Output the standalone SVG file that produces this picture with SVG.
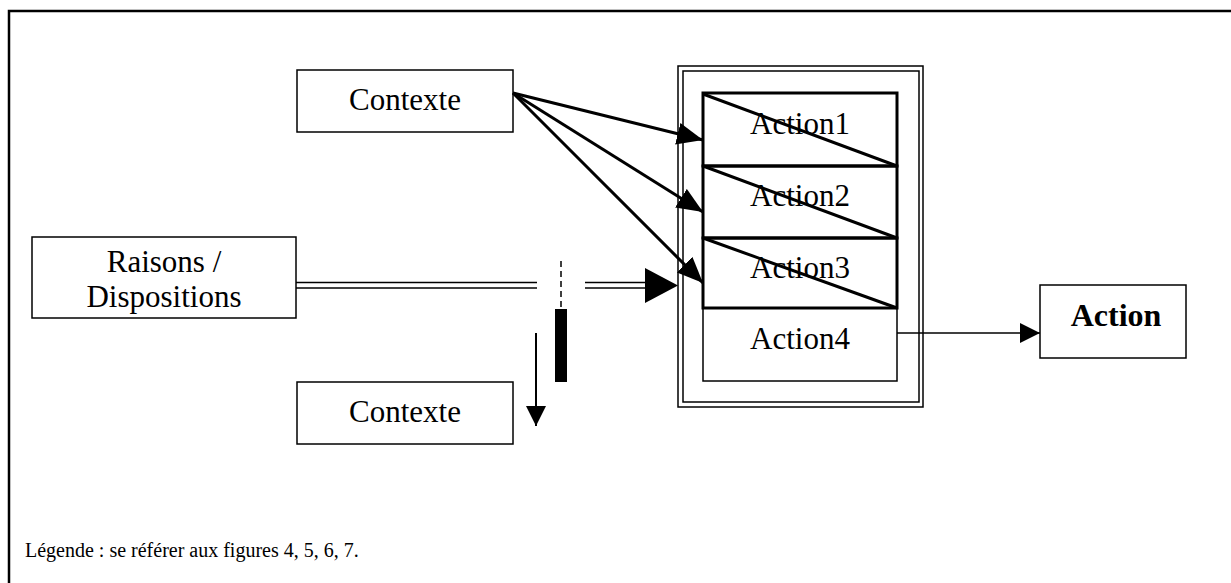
<svg xmlns="http://www.w3.org/2000/svg" width="1231" height="583" viewBox="0 0 1231 583">
<style>
text{font-family:"Liberation Serif","Times New Roman",serif;fill:#000}
.lbl{font-size:31px;text-anchor:middle}
.box{fill:#fff;stroke:#000;stroke-width:1.5}
.thick{fill:none;stroke:#000;stroke-width:3}
.ln{stroke:#000;fill:none}
</style>
<defs>
<marker id="big" markerUnits="userSpaceOnUse" markerWidth="26" markerHeight="22" refX="26" refY="11" orient="auto">
<path d="M0,0 L26,11 L0,22 Z" fill="#000"/>
</marker>
<marker id="small" markerUnits="userSpaceOnUse" markerWidth="20" markerHeight="20" refX="20" refY="10" orient="auto">
<path d="M0,0 L20,10 L0,20 Z" fill="#000"/>
</marker>
</defs>
<rect width="1231" height="583" fill="#fff"/>
<path d="M9,584 V11 H1232" class="ln" stroke-width="2.5"/>

<g id="container">
<rect x="678" y="66" width="245" height="341" fill="#fff" stroke="#000" stroke-width="1.5"/>
<rect x="683" y="71" width="236" height="331" fill="none" stroke="#000" stroke-width="1.5"/>
</g>

<g id="contexte-top">
<rect class="box" x="297" y="70" width="216" height="62"/>
<text class="lbl" x="405" y="110">Contexte</text>
</g>
<g id="raisons">
<rect class="box" x="32" y="237" width="264" height="81"/>
<text class="lbl" x="164" y="272">Raisons /</text>
<text class="lbl" x="164" y="307">Dispositions</text>
</g>
<g id="contexte-bottom">
<rect class="box" x="297" y="382" width="216" height="62"/>
<text class="lbl" x="405" y="422">Contexte</text>
</g>

<g id="action4">
<rect class="box" x="703" y="308" width="194" height="73"/>
<text class="lbl" x="800" y="349">Action4</text>
</g>
<g id="action1">
<text class="lbl" x="800" y="134">Action1</text>
<rect class="thick" x="703" y="93" width="194" height="73"/>
<line class="ln" stroke-width="3" x1="703" y1="94" x2="897" y2="166"/>
</g>
<g id="action2">
<text class="lbl" x="800" y="206">Action2</text>
<rect class="thick" x="703" y="166" width="194" height="72"/>
<line class="ln" stroke-width="3" x1="703" y1="166" x2="897" y2="238"/>
</g>
<g id="action3">
<text class="lbl" x="800" y="278">Action3</text>
<rect class="thick" x="703" y="238" width="194" height="70"/>
<line class="ln" stroke-width="3" x1="703" y1="238" x2="897" y2="308"/>
</g>

<g id="action">
<rect class="box" x="1040" y="285" width="146" height="73"/>
<text x="1116" y="326" font-size="32" font-weight="bold" text-anchor="middle">Action</text>
</g>

<g id="connectors">
<line class="ln" stroke-width="3" x1="513" y1="93" x2="703" y2="140" marker-end="url(#big)"/>
<line class="ln" stroke-width="3" x1="513" y1="93" x2="703" y2="212" marker-end="url(#big)"/>
<line class="ln" stroke-width="3" x1="513" y1="93" x2="703" y2="283" marker-end="url(#big)"/>
<line class="ln" stroke-width="1.5" x1="296" y1="282.5" x2="537" y2="282.5"/>
<line class="ln" stroke-width="1.5" x1="296" y1="288" x2="537" y2="288"/>
<line class="ln" stroke-width="1.5" x1="585" y1="282.5" x2="650" y2="282.5"/>
<line class="ln" stroke-width="1.5" x1="585" y1="288" x2="650" y2="288"/>
<path d="M645,268 L678,285.5 L645,303 Z" fill="#000"/>
<line class="ln" stroke-width="1.5" x1="561" y1="261" x2="561" y2="309" stroke-dasharray="6,4"/>
<rect x="555" y="309" width="12" height="73" fill="#000"/>
<line class="ln" stroke-width="2" x1="536" y1="333" x2="536" y2="426" marker-end="url(#small)"/>
<line class="ln" stroke-width="1.5" x1="897" y1="333" x2="1040" y2="333" marker-end="url(#small)"/>
</g>

<text x="25" y="557" font-size="20">Légende : se référer aux figures 4, 5, 6, 7.</text>
</svg>
